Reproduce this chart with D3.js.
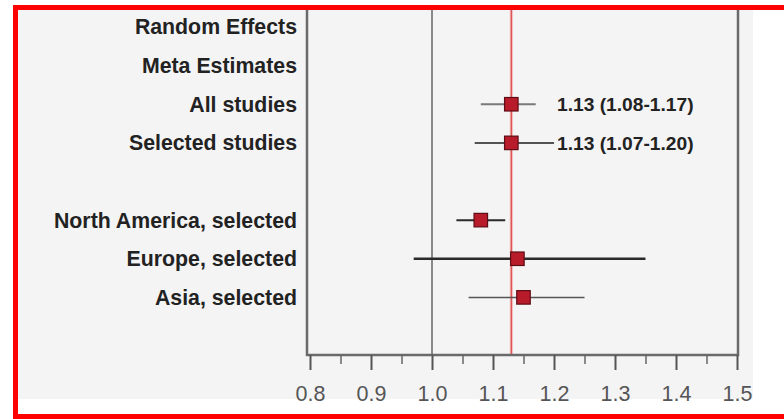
<!DOCTYPE html>
<html>
<head>
<meta charset="utf-8">
<script src="https://cdn.jsdelivr.net/npm/d3@7"></script>
<style>
  html, body { margin: 0; padding: 0; background: #ffffff; }
  svg { display: block; }
  text { font-family: "Liberation Sans", Arial, sans-serif; }
</style>
</head>
<body>
<svg id="chart" width="784" height="419"></svg>
<script>
// ---- data ----
const rowLabels = ["Random Effects", "Meta Estimates", "All studies", "Selected studies", "", "North America, selected", "Europe, selected", "Asia, selected", " "];
const studies = ["All studies", "Selected studies", "North America, selected", "Europe, selected", "Asia, selected"];
const estimates = [1.13, 1.13, 1.08, 1.14, 1.15];
const lowerCI = [1.08, 1.07, 1.04, 0.97, 1.06];
const upperCI = [1.17, 1.20, 1.12, 1.35, 1.25];
const valueLabels = ["1.13 (1.08-1.17)", "1.13 (1.07-1.20)", "", "", ""];
const majorTicks = [0.8, 0.9, 1.0, 1.1, 1.2, 1.3, 1.4, 1.5];
const minorTicks = [0.85, 0.95, 1.05, 1.15, 1.25, 1.35, 1.45];
const nullValue = 1.0;
const pooledValue = 1.13;

// ---- styles (not data) ----
const lineStyle = {
  "All studies": { c: "#7a7a7a", w: 2 },
  "Selected studies": { c: "#1e1e1e", w: 1.5 },
  "North America, selected": { c: "#2a2a2a", w: 2 },
  "Europe, selected": { c: "#2a2a2a", w: 2.5 },
  "Asia, selected": { c: "#555555", w: 1.5 }
};

const svg = d3.select("#chart");

// background panel and red frame
svg.append("rect").attr("x", 18).attr("y", 10).attr("width", 735).attr("height", 389).attr("fill", "#f4f4f5");
svg.append("path")
  .attr("d", "M15.5,419 L15.5,7.5 L784,7.5 M15.5,416.5 L784,416.5")
  .attr("fill", "none").attr("stroke", "#ff0000").attr("stroke-width", 5);

const x = d3.scaleLinear().domain([0.8, 1.5]).range([310, 737]);
const y = d3.scalePoint().domain(rowLabels).range([27, 336]);

const axisY = 355;
const plotTop = 10;

// reference lines
svg.append("line").attr("x1", x(nullValue)).attr("x2", x(nullValue))
  .attr("y1", plotTop).attr("y2", axisY).attr("stroke", "#8a8a8a").attr("stroke-width", 2);
svg.append("line").attr("x1", x(pooledValue)).attr("x2", x(pooledValue))
  .attr("y1", plotTop).attr("y2", axisY).attr("stroke", "#f2b3b3").attr("stroke-width", 3);
svg.append("line").attr("x1", x(pooledValue)).attr("x2", x(pooledValue))
  .attr("y1", plotTop).attr("y2", axisY).attr("stroke", "#d94040").attr("stroke-width", 1);

// frame of plot: left, right, bottom
svg.append("path")
  .attr("d", `M307,${plotTop} L307,${axisY} L738,${axisY} L738,${plotTop}`)
  .attr("fill", "none").attr("stroke", "#6a6a6a").attr("stroke-width", 2.5);

// x axis with D3
const axisG = svg.append("g").attr("transform", `translate(0,${axisY})`)
  .call(d3.axisBottom(x).tickValues(majorTicks).tickFormat(d3.format(".1f")).tickSize(15).tickPadding(16));
axisG.select(".domain").remove();
axisG.selectAll(".tick line").attr("stroke", "#555").attr("stroke-width", 2);
axisG.selectAll(".tick text").attr("fill", "#555").attr("font-size", 21.5)
  .attr("font-family", "'Liberation Sans', Arial, sans-serif");

const minorG = svg.append("g").attr("transform", `translate(0,${axisY})`)
  .call(d3.axisBottom(x).tickValues(minorTicks).tickFormat("").tickSize(9));
minorG.select(".domain").remove();
minorG.selectAll(".tick line").attr("stroke", "#666").attr("stroke-width", 1.5);

// row labels
svg.append("g").selectAll("text").data(rowLabels.filter(d => d.trim() !== "")).join("text")
  .attr("x", 297).attr("y", d => y(d)).attr("dy", "0.35em")
  .attr("text-anchor", "end").attr("font-weight", "bold").attr("font-size", 21.3)
  .attr("fill", "#222").text(d => d);

// CI lines
const rows = studies.map((s, i) => ({ s, est: estimates[i], lo: lowerCI[i], hi: upperCI[i], lab: valueLabels[i] }));
svg.append("g").selectAll("line").data(rows).join("line")
  .attr("x1", d => x(d.lo)).attr("x2", d => x(d.hi))
  .attr("y1", d => y(d.s)).attr("y2", d => y(d.s))
  .attr("stroke", d => lineStyle[d.s].c).attr("stroke-width", d => lineStyle[d.s].w);

// squares
const sq = 13.5;
svg.append("g").selectAll("rect").data(rows).join("rect")
  .attr("x", d => x(d.est) - sq / 2).attr("y", d => y(d.s) - sq / 2)
  .attr("width", sq).attr("height", sq)
  .attr("fill", "#b81c2a").attr("stroke", "#5e0c14").attr("stroke-width", 1.2);

// value labels
svg.append("g").selectAll("text").data(rows.filter(d => d.lab)).join("text")
  .attr("x", 557).attr("y", d => y(d.s)).attr("dy", "0.35em")
  .attr("font-weight", "bold").attr("font-size", 19.2).attr("fill", "#222")
  .text(d => d.lab);
</script>
</body>
</html>
